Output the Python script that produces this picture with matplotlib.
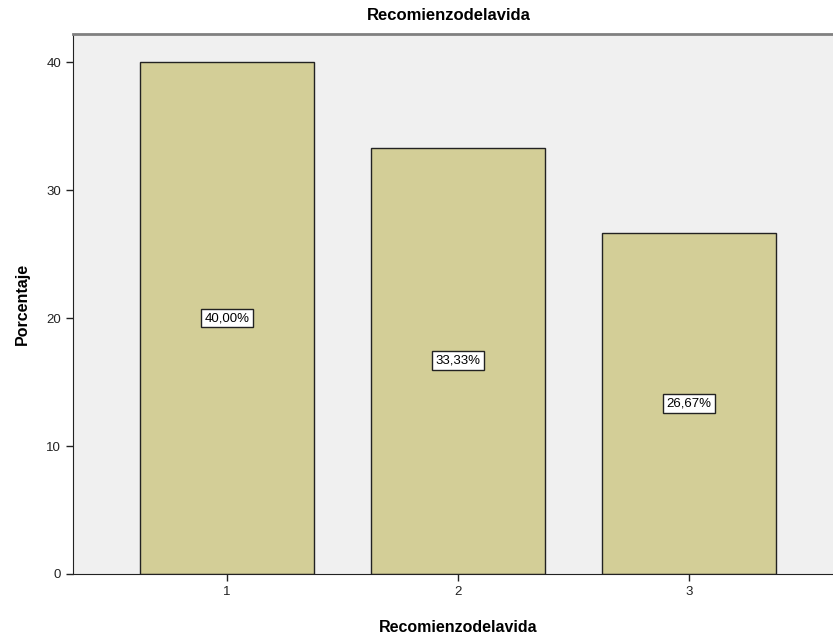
import matplotlib.pyplot as plt

categorias = ["1", "2", "3"]
porcentajes = [40.0, 33.33, 26.67]
etiquetas = ["40,00%", "33,33%", "26,67%"]

plt.rcParams["font.family"] = ["Liberation Sans", "DejaVu Sans"]

fig = plt.figure(figsize=(8.33, 6.36), dpi=100)
ax = fig.add_axes([73 / 833, 62 / 636, 770 / 833, 540 / 636])
ax.set_facecolor("#f0f0f0")

x = [1, 2, 3]
ax.bar(x, porcentajes, width=0.75, color="#d3ce97", edgecolor="#222222", linewidth=1.0, zorder=2)

for xi, val, txt in zip(x, porcentajes, etiquetas):
    ax.text(xi, val / 2, txt, ha="center", va="center", fontsize=9.5, zorder=3,
            bbox=dict(boxstyle="square,pad=0.25", facecolor="white", edgecolor="#222222", linewidth=1.0))

ax.set_xlim(1 / 3, 11 / 3)
ax.set_ylim(0, 42.2)
ax.set_xticks(x)
ax.set_xticklabels(categorias)
ax.set_yticks([0, 10, 20, 30, 40])

ax.spines["right"].set_visible(False)
ax.spines["top"].set_color("#808080")
ax.spines["top"].set_linewidth(2)
ax.spines["left"].set_color("#222222")
ax.spines["bottom"].set_color("#222222")
ax.tick_params(axis="both", labelsize=9.5, colors="#222222", length=5, width=1)

ax.set_xlabel("Recomienzodelavida", fontsize=11.5, fontweight="bold", labelpad=16)
ax.set_ylabel("Porcentaje", fontsize=11.5, fontweight="bold", labelpad=12)
fig.text(449 / 833, 1 - 16 / 636, "Recomienzodelavida", ha="center", va="center",
         fontsize=12, fontweight="bold")

fig.savefig("out.png", dpi=100)
